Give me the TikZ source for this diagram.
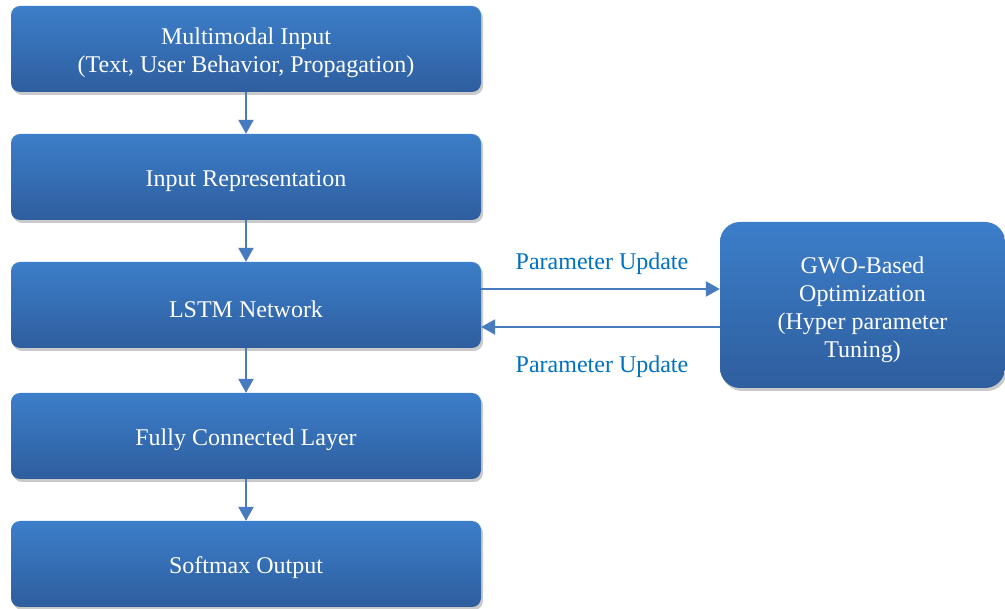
\documentclass[tikz,border=0pt]{standalone}
\usepackage{fontspec}
\setmainfont{Liberation Serif}
\usetikzlibrary{shadows,arrows.meta}
\definecolor{boxtop}{RGB}{60,126,202}
\definecolor{boxbot}{RGB}{46,94,158}
\definecolor{arrcol}{RGB}{72,122,190}
\definecolor{lblcol}{RGB}{0,112,192}
\tikzset{
  box/.style={rectangle, rounded corners=9pt, top color=boxtop, bottom color=boxbot,
    draw=none, minimum width=470pt, minimum height=86pt, inner sep=0pt,
    drop shadow={shadow xshift=2pt, shadow yshift=-3pt, opacity=0.35, fill=black!60}},
  bigbox/.style={box, rounded corners=20pt, minimum width=285pt, minimum height=166pt},
  txt/.style={text=white, font=\fontsize{24}{28}\selectfont, align=center, inner sep=0pt},
  conn/.style={draw=arrcol, line width=2.4pt, -{Triangle[length=14pt,width=15pt]}},
  lbl/.style={text=lblcol, font=\fontsize{24}{28}\selectfont, inner sep=0pt}
}
\begin{document}
\begin{tikzpicture}[x=1pt,y=-1pt]
\useasboundingbox (0,0) rectangle (1005,609);
\node[box] (inp) at (246,49) {};
\node[box] (rep) at (246,177) {};
\node[box] (lstm) at (246,305) {};
\node[box] (fc) at (246,436) {};
\node[box] (soft) at (246,564) {};
\node[bigbox] (gwo) at (862.5,305) {};
\node[txt] (inpT) at ([yshift=-4pt]inp.center) {Multimodal Input\\(Text, User Behavior, Propagation)};
\node[txt] (repT) at ([yshift=-4pt]rep.center) {Input Representation};
\node[txt] (lstmT) at ([yshift=-4pt]lstm.center) {LSTM Network};
\node[txt] (fcT) at ([yshift=-4pt]fc.center) {Fully Connected Layer};
\node[txt] (softT) at ([yshift=-4pt]soft.center) {Softmax Output};
\node[txt] (gwoT) at ([yshift=-5pt]gwo.center) {GWO-Based\\Optimization\\(Hyper parameter\\Tuning)};
\draw[conn] (inp.south) -- (rep.north);
\draw[conn] (rep.south) -- (lstm.north);
\draw[conn] (lstm.south) -- (fc.north);
\draw[conn] (fc.south) -- (soft.north);
\coordinate (r1) at (481,289);
\coordinate (l1) at (720,327);
\draw[conn] (lstm.east |- r1) -- (gwo.west |- r1);
\draw[conn] (gwo.west |- l1) -- (lstm.east |- l1);
\node[lbl] (lblA) at (602,264) {Parameter Update};
\node[lbl] (lblB) at (602,367) {Parameter Update};
\end{tikzpicture}
\end{document}
